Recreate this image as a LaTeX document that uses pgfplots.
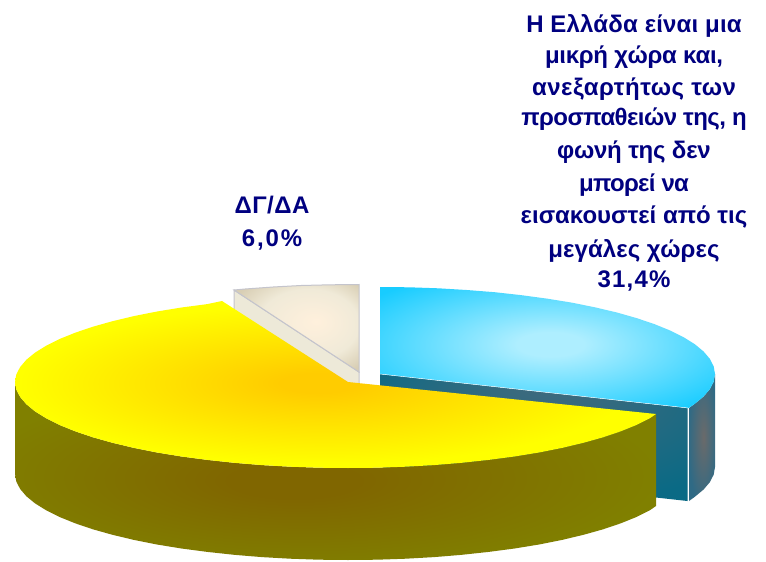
\documentclass[border=0pt]{standalone}
\usepackage{fontspec}
\setmainfont{Liberation Sans}
\usepackage{pgfplots}
\pgfplotsset{compat=1.18}
\definecolor{navytxt}{HTML}{000080}
\definecolor{yc}{HTML}{FFCC00}\definecolor{yy}{HTML}{FFFF00}
\definecolor{oc}{HTML}{806600}\definecolor{oo}{HTML}{808000}
\definecolor{bc}{HTML}{AEEEFF}\definecolor{be}{HTML}{18CCFF}
\definecolor{wc}{HTML}{456A7C}\definecolor{we}{HTML}{0A6A85}
\definecolor{gc}{HTML}{6A6A6A}\definecolor{ge}{HTML}{2F6A85}
\definecolor{cc}{HTML}{FFF0DC}\definecolor{cm}{HTML}{F0EAD8}\definecolor{ce}{HTML}{D8CEB4}
\definecolor{cwall}{HTML}{EDE9D8}
\definecolor{cline}{HTML}{C4C4CC}
\pgfdeclareradialshading{yellowtop}{\pgfpoint{-1.4bp}{0.5bp}}{color(0bp)=(yc);color(3bp)=(yc);color(24bp)=(yy);color(50bp)=(yy)}
\pgfdeclareradialshading{yellowside}{\pgfpoint{-3.6bp}{-3bp}}{color(0bp)=(oc);color(5bp)=(oc);color(27bp)=(oo);color(50bp)=(oo)}
\pgfdeclareradialshading{bluetop}{\pgfpoint{0.5bp}{1.5bp}}{color(0bp)=(bc);color(5bp)=(bc);color(33bp)=(be);color(50bp)=(be)}
\pgfdeclareradialshading{bluein}{\pgfpoint{4bp}{25bp}}{color(0bp)=(wc);color(35bp)=(we);color(50bp)=(we)}
\pgfdeclareradialshading{blueout}{\pgfpoint{3bp}{0bp}}{color(0bp)=(gc);color(28bp)=(ge);color(50bp)=(ge)}
\pgfdeclareradialshading{creamtop}{\pgfpoint{8bp}{4bp}}{color(0bp)=(cc);color(20bp)=(cm);color(32bp)=(ce);color(50bp)=(ce)}
\newcommand{\lbl}[3]{\node[anchor=base,text=navytxt,inner sep=0pt,font={\fontsize{24}{26}\selectfont\bfseries\addfontfeature{LetterSpace=#3}}] at (axis cs:#1) {#2};}
\begin{document}
\begin{tikzpicture}
\begin{axis}[hide axis,scale only axis,width=766pt,height=562pt,xmin=0,xmax=766,ymin=0,ymax=562,y dir=reverse,clip=false]
\addplot[fill=white,draw=none,forget plot] coordinates {(0,0)(766,0)(766,562)(0,562)} -- cycle;
% cream slice
\addplot[fill=cwall,draw=cline,line width=1pt,forget plot] coordinates {(234,290)(359,372)(359,396)(234,314)} -- cycle;
\addplot[shading=creamtop,draw=cline,line width=1pt,forget plot] coordinates {(359,372)(234,290)(245,289)(273,287)(301,285.5)(330,284.8)(359,284.5)} -- cycle;
% blue slice
\addplot[shading=bluein,draw=none,forget plot] coordinates {(380,374)(687.5,408)(687.5,501)(380,467)} -- cycle;
\addplot[shading=blueout,draw=none,forget plot] coordinates {(689,408)(694.8,403.8)(703.6,396.5)(709.9,389.1)(713.7,381.6)(715,374)(715,467)(713.7,474.6)(709.9,482.1)(703.6,489.5)(694.8,496.8)(689,501)} -- cycle;
\addplot[shading=bluetop,draw=none,forget plot] coordinates {(380,374)(380,287)(409.2,287.3)(438.2,288.3)(466.7,290)(494.6,292.2)(521.6,295.2)(547.5,298.7)(572.2,302.7)(595.3,307.4)(616.9,312.5)(636.6,318.1)(654.4,324.1)(670.1,330.5)(683.6,337.2)(694.8,344.2)(703.6,351.5)(709.9,358.9)(713.7,366.4)(715,374)(713.7,381.6)(709.9,389.1)(703.6,396.5)(694.8,403.8)(688.5,408)} -- cycle;
\addplot[white,line width=0.4pt,mark=none,forget plot] coordinates {(380,374)(688,408)};
% yellow slice
\addplot[shading=yellowside,draw=none,forget plot] coordinates {(15,382)(16.3,389.5)(20.1,396.9)(26.4,404.3)(35.1,411.4)(46.2,418.3)(59.6,425)(75.2,431.3)(92.9,437.3)(112.5,442.8)(133.9,447.9)(157,452.5)(181.5,456.5)(207.3,459.9)(234.1,462.8)(261.8,465.1)(290.2,466.7)(319,467.7)(348,468)(377,467.7)(405.8,466.7)(434.2,465.1)(461.9,462.8)(488.7,459.9)(514.5,456.5)(539,452.5)(562.1,447.9)(583.5,442.8)(603.1,437.3)(620.8,431.3)(636.4,425)(649.8,418.3)(656,414)
(656,506)(649.8,510.3)(636.4,517)(620.8,523.3)(603.1,529.3)(583.5,534.8)(562.1,539.9)(539,544.5)(514.5,548.5)(488.7,551.9)(461.9,554.8)(434.2,557.1)(405.8,558.7)(377,559.7)(348,560)(319,559.7)(290.2,558.7)(261.8,557.1)(234.1,554.8)(207.3,551.9)(181.5,548.5)(157,544.5)(133.9,539.9)(112.5,534.8)(92.9,529.3)(75.2,523.3)(59.6,517)(46.2,510.3)(35.1,503.4)(26.4,496.3)(20.1,488.9)(16.3,481.5)(15,474)} -- cycle;
\addplot[shading=yellowtop,draw=none,forget plot] coordinates {(348,382)(656,414)(649.8,418.3)(636.4,425)(620.8,431.3)(603.1,437.3)(583.5,442.8)(562.1,447.9)(539,452.5)(514.5,456.5)(488.7,459.9)(461.9,462.8)(434.2,465.1)(405.8,466.7)(377,467.7)(348,468)(319,467.7)(290.2,466.7)(261.8,465.1)(234.1,462.8)(207.3,459.9)(181.5,456.5)(157,452.5)(133.9,447.9)(112.5,442.8)(92.9,437.3)(75.2,431.3)(59.6,425)(46.2,418.3)(35.1,411.4)(26.4,404.3)(20.1,396.9)(16.3,389.5)(15,382)(16.3,374.5)(20.1,367.1)(26.4,359.7)(35.1,352.6)(46.2,345.7)(59.6,339)(75.2,332.7)(92.9,326.7)(112.5,321.2)(133.9,316.1)(157,311.5)(181.5,307.5)(207.3,304.1)(222,301)} -- cycle;
% labels
\lbl{634,32}{Η Ελλάδα είναι μια}{0.8}
\lbl{634,63}{μικρή χώρα και,}{-1.2}
\lbl{634,95}{ανεξαρτήτως των}{2.1}
\lbl{634,125}{προσπαθειών της, η}{-2.4}
\lbl{634,158}{φωνή της δεν}{-1.1}
\lbl{634,191}{μπορεί να}{-2.9}
\lbl{634,223}{εισακουστεί από τις}{0}
\lbl{634,257}{μεγάλες χώρες}{0.3}
\lbl{634,287}{31,4\%}{5}
\lbl{272,213}{ΔΓ/ΔΑ}{2}
\lbl{272,246}{6,0\%}{7.7}
\end{axis}
\end{tikzpicture}
\end{document}
